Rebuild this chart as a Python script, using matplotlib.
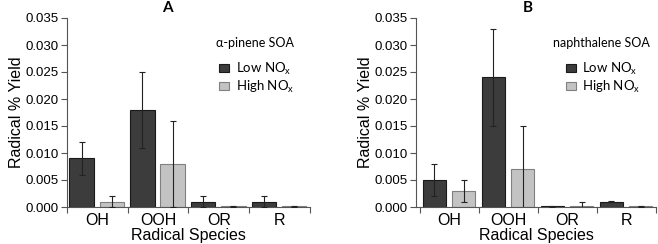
import matplotlib
matplotlib.use('Agg')
import matplotlib.pyplot as plt
import numpy as np
from matplotlib.patches import Patch

plt.rcParams['font.family'] = ['Liberation Sans', 'DejaVu Sans']

species = ['OH', 'OOH', 'OR', 'R']
yticks = [0.000, 0.005, 0.010, 0.015, 0.020, 0.025, 0.030, 0.035]

# panel A: alpha-pinene SOA
a_low = [0.009, 0.018, 0.001, 0.001]
a_low_err = [0.003, 0.007, 0.001, 0.001]
a_high = [0.001, 0.008, 0.0001, 0.0001]
a_high_err = [0.001, 0.008, 0.00005, 0.00005]

# panel B: naphthalene SOA
b_low = [0.005, 0.024, 0.0001, 0.001]
b_low_err = [0.003, 0.009, 0.00005, 0.00005]
b_high = [0.003, 0.007, 0.0001, 0.0001]
b_high_err = [0.002, 0.008, 0.0009, 0.00005]

dark = '#3c3c3c'
light = '#c3c3c3'


def panel(ax, low, low_err, high, high_err, letter, name, x0, letter_x):
    x = np.arange(len(species))
    ax.bar(x + 0.245, low, 0.4, color=dark, edgecolor='#1a1a1a', lw=0.8, zorder=2)
    ax.bar(x + 0.74, high, 0.4, color=light, edgecolor='#808080', lw=0.8, zorder=2)
    ax.errorbar(x + 0.245, low, yerr=low_err, fmt='none', ecolor='#222222',
                elinewidth=0.8, capsize=2.5, capthick=0.8, zorder=3)
    ax.errorbar(x + 0.74, high, yerr=high_err, fmt='none', ecolor='#222222',
                elinewidth=0.8, capsize=2.5, capthick=0.8, zorder=3)

    ax.set_xlim(x0, len(species))
    ax.set_ylim(0, 0.035)
    ax.set_yticks(yticks)
    ax.set_yticklabels([f'{v:.3f}' for v in yticks], fontsize=9.5)
    ax.set_xticks(x + 0.5)
    ax.set_xticklabels(species, fontsize=11.5)
    ax.set_xticks(np.arange(len(species) + 1), minor=True)
    ax.tick_params(axis='x', which='major', length=0, pad=4)
    ax.tick_params(axis='x', which='minor', length=4, width=0.8, color='#555555')
    ax.tick_params(axis='y', length=4, width=0.8, color='#555555', pad=2)
    for s in ['top', 'right']:
        ax.spines[s].set_visible(False)
    for s in ['left', 'bottom']:
        ax.spines[s].set_color('#555555')
        ax.spines[s].set_linewidth(0.8)
    ax.set_xlabel('Radical Species', fontsize=11.5, labelpad=0)
    ax.set_ylabel('Radical % Yield', fontsize=11.5, labelpad=1)

    fig = ax.figure
    fig.text(letter_x / 658, 1 - 1 / 244, letter, ha='center', va='top',
             fontsize=11, fontweight='bold', family='Lato')
    ax.text(0.772, 0.868, name, transform=ax.transAxes, ha='center', va='center',
            fontsize=9, family='Lato')
    handles = [Patch(facecolor=dark, edgecolor='#1a1a1a', lw=0.8),
               Patch(facecolor=light, edgecolor='#808080', lw=0.8)]
    ax.legend(handles, ['Low NO$_\\mathregular{x}$', 'High NO$_\\mathregular{x}$'],
              loc='center', bbox_to_anchor=(0.78, 0.685), frameon=False,
              prop={'family': 'Lato', 'size': 9.5}, handlelength=0.75, handleheight=0.6,
              handletextpad=0.5, labelspacing=0.15, borderpad=0)


fig = plt.figure(figsize=(6.58, 2.44), dpi=100)
axA = fig.add_axes([66.7 / 658, 37 / 244, 243.3 / 658, 189 / 244])
axB = fig.add_axes([416 / 658, 37 / 244, 240 / 658, 189 / 244])
panel(axA, a_low, a_low_err, a_high, a_high_err, 'A', '\u03b1-pinene SOA', 0, 167)
panel(axB, b_low, b_low_err, b_high, b_high_err, 'B', 'naphthalene SOA', -0.067, 528)

fig.savefig('out.png', dpi=100)
